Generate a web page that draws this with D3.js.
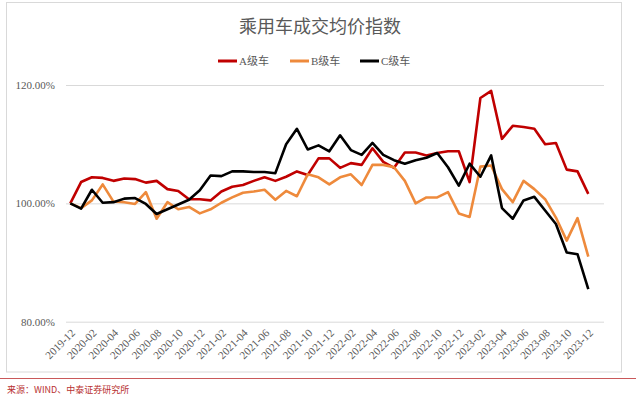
<!DOCTYPE html>
<html>
<head>
<meta charset="utf-8">
<script src="https://cdn.jsdelivr.net/npm/d3@7"></script>
<style>
  body { margin: 0; background: #fff; }
  svg { display: block; }
  .serif { font-family: "Liberation Serif", "Noto Sans CJK SC", serif; }
</style>
</head>
<body>
<div id="svg"></div>
<script>
// Months on the x axis
const months = [
  "2019-12",
  "2020-01","2020-02","2020-03","2020-04","2020-05","2020-06","2020-07","2020-08","2020-09","2020-10","2020-11","2020-12",
  "2021-01","2021-02","2021-03","2021-04","2021-05","2021-06","2021-07","2021-08","2021-09","2021-10","2021-11","2021-12",
  "2022-01","2022-02","2022-03","2022-04","2022-05","2022-06","2022-07","2022-08","2022-09","2022-10","2022-11","2022-12",
  "2023-01","2023-02","2023-03","2023-04","2023-05","2023-06","2023-07","2023-08","2023-09","2023-10","2023-11","2023-12"
];

// Index values (%)
const seriesA = [100.0, 103.6, 104.4, 104.3, 103.8, 104.2, 104.1, 103.5, 103.8, 102.4, 102.1, 100.7, 100.7,
  100.5, 102.0, 102.8, 103.1, 103.8, 104.4, 103.8, 104.5, 105.4, 104.8, 107.6, 107.6,
  106.0, 106.8, 106.5, 109.3, 107.0, 106.0, 108.6, 108.6, 108.1, 108.5, 108.8, 108.8,
  103.6, 117.8, 119.0, 110.9, 113.1, 112.9, 112.6, 110.0, 110.2, 105.7, 105.4, 101.6];

const seriesB = [100.0, 99.2, 100.5, 103.2, 100.3, 100.2, 99.9, 101.9, 97.4, 100.2, 99.0, 99.4, 98.3,
  99.0, 100.1, 101.0, 101.8, 102.0, 102.3, 100.6, 102.1, 101.2, 104.9, 104.4, 103.2,
  104.4, 104.9, 103.1, 106.5, 106.5, 106.1, 103.8, 100.0, 101.0, 101.0, 101.9, 98.3,
  97.7, 106.2, 106.4, 102.4, 100.2, 103.8, 102.4, 100.7, 97.6, 93.7, 97.5, 91.0];

const seriesC = [100.0, 99.1, 102.3, 100.1, 100.2, 100.8, 100.9, 99.9, 98.2, 99.0, 99.8, 100.6, 102.2,
  104.7, 104.6, 105.4, 105.4, 105.3, 105.3, 105.1, 110.0, 112.6, 109.1, 109.8, 108.8,
  111.5, 109.0, 108.2, 110.2, 108.2, 107.3, 106.7, 107.3, 107.7, 108.5, 106.1, 103.0,
  106.7, 104.5, 108.1, 99.2, 97.4, 100.5, 101.1, 98.8, 96.5, 91.7, 91.4, 85.5];

const seriesNames = ["A级车", "B级车", "C级车"];
const yTicks = [80, 100, 120];

(function() {
  const width = 640, height = 398;
  const plot = {left: 66, right: 604, top: 85, bottom: 321.7};
  const colors = ["#c00000", "#ee8a3c", "#000000"];

  const svg = d3.select("#svg").append("svg")
    .attr("width", width)
    .attr("height", height);

  // Chart frame
  svg.append("rect")
    .attr("x", 6.5).attr("y", 2.5)
    .attr("width", 615).attr("height", 369.5)
    .attr("fill", "#fff")
    .attr("stroke", "#d9d9d9");

  // Title
  svg.append("text")
    .attr("x", 320).attr("y", 33)
    .attr("text-anchor", "middle")
    .style("font-family", "'Noto Sans CJK SC', sans-serif")
    .style("font-size", "18px")
    .attr("fill", "#595959")
    .text("乘用车成交均价指数");

  // Scales
  const x = d3.scalePoint()
    .domain(months)
    .range([70.3, 588.3]);

  const y = d3.scaleLinear()
    .domain([80, 120])
    .range([plot.bottom, plot.top]);

  // Y axis + gridlines
  const yAxis = svg.append("g")
    .attr("class", "serif")
    .attr("transform", `translate(${plot.left}, 0)`)
    .call(d3.axisLeft(y)
      .tickValues(yTicks)
      .tickSize(-(plot.right - plot.left))
      .tickPadding(11)
      .tickFormat(d => d.toFixed(2) + "%"));
  yAxis.select(".domain").remove();
  yAxis.selectAll("line").attr("stroke", "#d9d9d9");
  yAxis.selectAll("text")
    .attr("x", -11)
    .style("font-size", "11px")
    .attr("fill", "#595959");

  // X axis labels
  const xAxis = svg.append("g")
    .attr("class", "serif")
    .attr("transform", `translate(0, ${plot.bottom})`)
    .call(d3.axisBottom(x)
      .tickValues(months.filter((d, i) => i % 2 === 0))
      .tickSize(0));
  xAxis.select(".domain").remove();
  xAxis.selectAll("text")
    .style("font-size", "11px")
    .attr("fill", "#595959")
    .attr("text-anchor", "end")
    .attr("dy", 0)
    .attr("y", 0)
    .attr("transform", "translate(5, 12) rotate(-45)");

  // Lines
  const line = d3.line()
    .x((d, i) => x(months[i]))
    .y(d => y(d));

  [seriesA, seriesB, seriesC].forEach((s, k) => {
    svg.append("path")
      .datum(s)
      .attr("fill", "none")
      .attr("stroke", colors[k])
      .attr("stroke-width", 2.6)
      .attr("stroke-linejoin", "round")
      .attr("d", line);
  });

  // Legend
  const legendX = [218, 290, 360];
  const legend = svg.append("g")
    .attr("class", "serif")
    .attr("transform", "translate(0, 61)");
  seriesNames.forEach((name, k) => {
    legend.append("line")
      .attr("x1", legendX[k]).attr("x2", legendX[k] + 19)
      .attr("stroke", colors[k])
      .attr("stroke-width", 3);
    legend.append("text")
      .attr("x", legendX[k] + 21)
      .attr("dy", "0.35em")
      .style("font-size", "11px")
      .attr("fill", "#595959")
      .text(name);
  });

  // Source footer
  svg.append("line")
    .attr("x1", 0).attr("x2", 636)
    .attr("y1", 378.5).attr("y2", 378.5)
    .attr("stroke", "#c9585a")
    .attr("stroke-width", 1);

  svg.append("text")
    .attr("x", 7).attr("y", 393)
    .style("font-family", "'Noto Sans CJK SC', sans-serif")
    .style("font-size", "9px")
    .attr("fill", "#b8312f")
    .text("来源：WIND、中泰证券研究所");
})();
</script>
</body>
</html>
